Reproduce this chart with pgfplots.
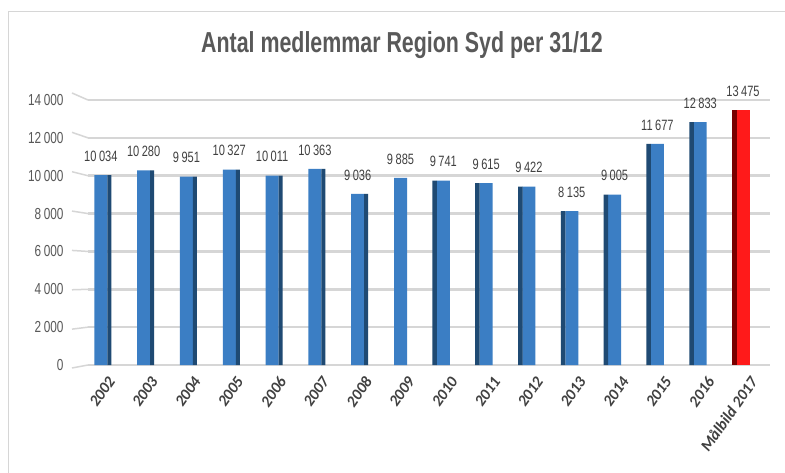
\documentclass[border=0pt]{standalone}
\usepackage{fontspec}
\setmainfont{Liberation Sans}[FakeStretch=0.74]
\newfontfamily\calib{Carlito}
\usepackage{pgfplots}
\pgfplotsset{compat=1.18}
\definecolor{titlegray}{HTML}{595959}
\definecolor{labgray}{HTML}{404040}
\definecolor{gridgray}{HTML}{D6D6D6}
\definecolor{barblue}{HTML}{3B7EC4}
\definecolor{sideblue}{HTML}{1F4A73}
\definecolor{barred}{HTML}{FF1A1A}
\definecolor{sidered}{HTML}{7A0000}
\begin{document}
\begin{tikzpicture}
\useasboundingbox (0,0) rectangle (785bp,473bp);
\fill[white] (0,0) rectangle (785bp,473bp);
\draw[gridgray, line width=1bp] (8bp,0) -- (8bp,461bp) -- (785bp,461bp);
\node[text=titlegray, font=\fontsize{29}{32}\selectfont\bfseries] at (402bp,428bp) {Antal medlemmar Region Syd per 31/12};
\begin{axis}[
  at={(88bp,108bp)}, anchor=south west,
  scale only axis, width=682bp, height=265bp,
  xmin=-0.3, xmax=15.63, ymin=0, ymax=14000,
  ybar, bar width=13bp,
  axis line style={draw=none},
  tick style={draw=none},
  ymajorgrids, grid style={gridgray, line width=2.5bp},
  ytick={0,2000,...,14000},
  scaled y ticks=false,
  xtick={0,...,15},
  xticklabels={2002,2003,2004,2005,2006,2007,2008,2009,2010,2011,2012,2013,2014,2015,2016,Målbild 2017},
  xticklabel style={rotate=55, anchor=east, yshift=-14bp, xshift=2bp, text=labgray, font=\calib\fontsize{16}{17}\selectfont\bfseries\itshape},
  yticklabel style={xshift=-21bp, text=titlegray, font=\fontsize{16}{17}\selectfont, /pgf/number format/fixed},
  /pgf/number format/assume math mode=true,
  /pgf/number format/1000 sep={\,},
  clip=false,
]
\draw[gridgray, line width=1.5bp] (axis cs:-0.3,0) -- ++(-16bp,-3bp);
\draw[gridgray, line width=1.5bp] (axis cs:-0.3,2000) -- ++(-16bp,-2bp);
\draw[gridgray, line width=1.5bp] (axis cs:-0.3,4000) -- ++(-16bp,-0.5bp);
\draw[gridgray, line width=1.5bp] (axis cs:-0.3,6000) -- ++(-16bp,1bp);
\draw[gridgray, line width=1.5bp] (axis cs:-0.3,8000) -- ++(-16bp,2.5bp);
\draw[gridgray, line width=1.5bp] (axis cs:-0.3,10000) -- ++(-16bp,4bp);
\draw[gridgray, line width=1.5bp] (axis cs:-0.3,12000) -- ++(-16bp,5.5bp);
\draw[gridgray, line width=1.5bp] (axis cs:-0.3,14000) -- ++(-16bp,7bp);
% faces
\addplot[fill=barblue, draw=none, bar shift=0bp,
  nodes near coords, nodes near coords style={text=labgray, font=\fontsize{15}{16}\selectfont, yshift=10bp, /pgf/number format/1000 sep={\,}, /pgf/number format/assume math mode=true}]
  coordinates {(0,10034) (1,10280) (2,9951) (3,10327) (4,10011) (5,10363) (6,9036) (7,9885) (8,9741) (9,9615) (10,9422) (11,8135) (12,9005) (13,11677) (14,12833)};
\addplot[fill=barred, draw=none, bar shift=0bp,
  nodes near coords, nodes near coords style={text=labgray, font=\fontsize{15}{16}\selectfont, yshift=10bp, /pgf/number format/1000 sep={\,}, /pgf/number format/assume math mode=true}]
  coordinates {(15,13475)};
% right sides
\addplot[fill=sideblue, draw=none, bar width=4bp, bar shift=8.5bp]
  coordinates {(0,10034) (1,10280) (2,9951) (3,10327) (4,10011) (5,10363) (6,9036)};
% left sides
\addplot[fill=sideblue, draw=none, bar width=4.5bp, bar shift=-8.7bp]
  coordinates {(8,9741) (9,9615) (10,9422) (11,8135) (12,9005) (13,11677) (14,12833)};
\addplot[fill=sidered, draw=none, bar width=5bp, bar shift=-9bp]
  coordinates {(15,13475)};
\end{axis}
\end{tikzpicture}
\end{document}
